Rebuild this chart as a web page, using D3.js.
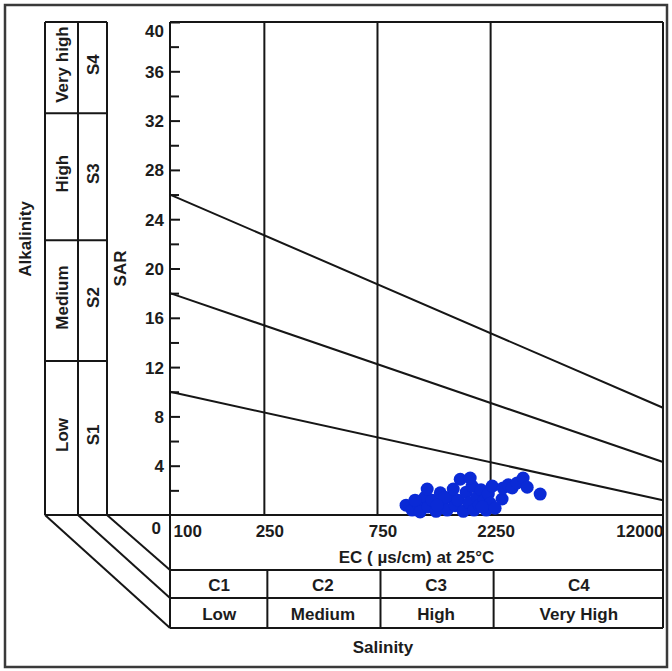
<!DOCTYPE html>
<html>
<head>
<meta charset="utf-8">
<script src="https://cdn.jsdelivr.net/npm/d3@7/dist/d3.min.js"></script>
<style>
  body { margin: 0; background: #fff; }
  text { font-family: "Liberation Sans", Arial, sans-serif; font-weight: bold; fill: #1c1c1c; font-size: 17px; }
  .frame { stroke: #161616; stroke-width: 2; fill: none; }
</style>
</head>
<body>
<div id="chart"></div>
<script>
// EC class breaks (log axis) and their labels
var ecBreaks = [100, 250, 750, 2250, 12000];
var ecLabels = ["100", "250", "750", "2250", "12000"];

// SAR ticks
var sarMajor = [4, 8, 12, 16, 20, 24, 28, 32, 36, 40];
var sarMinor = [2, 6, 10, 14, 18, 22, 26, 30, 34, 38];

// salinity classes (bottom table)
var salinityClasses = ["C1", "C2", "C3", "C4"];
var salinityNames = ["Low", "Medium", "High", "Very High"];

// sodium classes (left boxes), drawn bottom to top
var sodiumClasses = ["S1", "S2", "S3", "S4"];
var sodiumNames = ["Low", "Medium", "High", "Very high"];
var sodiumBounds = [0, 12.5, 22.3, 32.6, 40];

// hazard lines: SAR at EC = 100 and SAR at EC = 12000
var hazardStart = [10, 18, 26];
var hazardEnd = [1.2, 4.3, 8.7];

// water samples
var sampleEC = [990, 1050, 1110, 1135, 1190, 1225, 1275, 1325, 1380, 1405,
  1475, 1520, 1595, 1640, 1675, 1725, 1775, 1825, 1880, 1915,
  1975, 2015, 2050, 2115, 2155, 2200, 2240, 2285, 2350, 2515,
  2540, 2670, 2775, 2910, 3085, 3210, 3640, 1080, 1215, 1445,
  1565, 1845, 2075, 1340];
var sampleSAR = [0.8, 0.4, 0.9, 0.25, 1.45, 0.65, 1.2, 0.3, 1.8, 0.9,
  0.4, 1.4, 0.75, 1.2, 2.9, 0.3, 1.85, 1.0, 2.35, 0.4,
  1.45, 0.8, 2.05, 1.2, 0.4, 1.7, 0.95, 2.35, 0.55, 1.3,
  2.2, 2.45, 2.2, 2.6, 3.0, 2.25, 1.7, 1.2, 2.1, 1.45,
  2.1, 3.0, 0.65, 0.8];

// SVG area
var svgWidth = 672;
var svgHeight = 671;

var chartMargin = { top: 22, right: 9, bottom: 156, left: 170 };
var chartWidth = svgWidth - chartMargin.left - chartMargin.right;
var chartHeight = svgHeight - chartMargin.top - chartMargin.bottom;

var svg = d3.select("#chart")
  .append("svg")
  .attr("width", svgWidth)
  .attr("height", svgHeight);

// outer frame
svg.append("rect")
  .attr("x", 5).attr("y", 5)
  .attr("width", 662).attr("height", 662)
  .attr("fill", "none")
  .attr("stroke", "#3a3a3a")
  .attr("stroke-width", 2.5);

var chartGroup = svg.append("g")
  .attr("transform", `translate(${chartMargin.left}, ${chartMargin.top})`);

var xLogScale = d3.scaleLog()
  .domain([100, 12000])
  .range([0, chartWidth]);

var yLinearScale = d3.scaleLinear()
  .domain([0, 40])
  .range([chartHeight, 0]);

var rowC = chartHeight + 55;   // top of C1..C4 row
var rowN = chartHeight + 83;   // top of Low..Very High row
var rowEnd = chartHeight + 113;

// left boxes columns (relative to the axis)
var colA = -125, colB = -92, colC = -63;

function hline(x1, x2, y) {
  chartGroup.append("line").attr("class", "frame")
    .attr("x1", x1).attr("x2", x2).attr("y1", y).attr("y2", y);
}
function vline(x, y1, y2) {
  chartGroup.append("line").attr("class", "frame")
    .attr("x1", x).attr("x2", x).attr("y1", y1).attr("y2", y2);
}

// plot frame
hline(0, chartWidth, 0);
hline(colA, chartWidth, chartHeight);
vline(0, 0, rowEnd);
vline(chartWidth, 0, rowEnd);

// class break lines inside the plot
ecBreaks.slice(1, -1).forEach(function(v) {
  vline(xLogScale(v), 0, chartHeight);
  vline(xLogScale(v) + 3, rowC, rowEnd);
});

// bottom table
hline(0, chartWidth, rowC);
hline(0, chartWidth, rowN);
hline(0, chartWidth, rowEnd);

salinityClasses.forEach(function(c, i) {
  var cx = (xLogScale(ecBreaks[i]) + xLogScale(ecBreaks[i + 1])) / 2 + 2;
  chartGroup.append("text")
    .attr("x", cx).attr("y", rowC + 15)
    .attr("text-anchor", "middle")
    .attr("dominant-baseline", "central")
    .text(c);
  chartGroup.append("text")
    .attr("x", cx).attr("y", rowN + 16)
    .attr("text-anchor", "middle")
    .attr("dominant-baseline", "central")
    .text(salinityNames[i]);
});

// left side boxes
hline(colA, colC, 0);
vline(colA, 0, chartHeight);
vline(colB, 0, chartHeight);
vline(colC, 0, chartHeight);
sodiumBounds.slice(1, -1).forEach(function(v) {
  hline(colA, colC, yLinearScale(v));
});

sodiumClasses.forEach(function(s, i) {
  var cy = (yLinearScale(sodiumBounds[i]) + yLinearScale(sodiumBounds[i + 1])) / 2 - 3;
  chartGroup.append("text")
    .attr("transform", `translate(${(colA + colB) / 2 + 1}, ${cy}) rotate(-90)`)
    .attr("text-anchor", "middle")
    .attr("dominant-baseline", "central")
    .text(sodiumNames[i]);
  chartGroup.append("text")
    .attr("transform", `translate(${(colB + colC) / 2 + 1}, ${cy}) rotate(-90)`)
    .attr("text-anchor", "middle")
    .attr("dominant-baseline", "central")
    .text(s);
});

// perspective lines to the bottom table
[[colA, rowEnd], [colB, rowN], [colC, rowC]].forEach(function(p) {
  chartGroup.append("line").attr("class", "frame")
    .attr("x1", p[0]).attr("y1", chartHeight)
    .attr("x2", 0).attr("y2", p[1]);
});

// y axis (ticks pointing into the plot)
var leftAxis = d3.axisLeft(yLinearScale)
  .tickValues(sarMajor)
  .tickSize(-10)
  .tickPadding(6);
var minorAxis = d3.axisLeft(yLinearScale)
  .tickValues(sarMinor)
  .tickSize(-9)
  .tickFormat("");

var yAxisG = chartGroup.append("g").call(leftAxis);
chartGroup.append("g").call(minorAxis);
chartGroup.selectAll(".domain").remove();
chartGroup.selectAll(".tick line").attr("stroke", "#161616").attr("stroke-width", 2);
yAxisG.selectAll("text")
  .style("font-size", "17px")
  .attr("dy", d => d == 40 ? "0.85em" : "0.35em");

chartGroup.append("text")
  .attr("x", -9).attr("y", yLinearScale(0) + 13)
  .attr("text-anchor", "end")
  .attr("dominant-baseline", "central")
  .text("0");

// x axis labels
var bottomAxis = d3.axisBottom(xLogScale)
  .tickValues(ecBreaks)
  .tickFormat((d, i) => ecLabels[i])
  .tickSize(0)
  .tickPadding(10);
var xAxisG = chartGroup.append("g")
  .attr("transform", `translate(0, ${chartHeight})`)
  .call(bottomAxis);
xAxisG.select(".domain").remove();
xAxisG.selectAll("text")
  .style("font-size", "17px")
  .attr("text-anchor", (d, i) => i == 0 ? "start" : (i == ecBreaks.length - 1 ? "end" : "middle"))
  .attr("dx", (d, i) => i == 0 ? 3 : (i == ecBreaks.length - 1 ? 0 : 5));

// hazard lines
var hazardLine = d3.line()
  .x(d => xLogScale(d[0]))
  .y(d => yLinearScale(d[1]));

hazardStart.forEach(function(s, i) {
  chartGroup.append("path")
    .datum([[100, s], [12000, hazardEnd[i]]])
    .attr("d", hazardLine)
    .attr("fill", "none")
    .attr("stroke", "#161616")
    .attr("stroke-width", 2);
});

// samples
chartGroup.selectAll(".sample")
  .data(sampleEC)
  .enter()
  .append("circle")
  .attr("class", "sample")
  .attr("cx", d => xLogScale(d))
  .attr("cy", (d, i) => yLinearScale(sampleSAR[i]))
  .attr("r", 6.5)
  .attr("fill", "#0a2ad6");

// axis titles
chartGroup.append("text")
  .attr("x", chartWidth / 2).attr("y", chartHeight + 42)
  .attr("text-anchor", "middle")
  .attr("dominant-baseline", "central")
  .text("EC ( µs/cm) at 25°C");

chartGroup.append("text")
  .attr("x", 213).attr("y", chartHeight + 132)
  .attr("text-anchor", "middle")
  .attr("dominant-baseline", "central")
  .text("Salinity");

chartGroup.append("text")
  .attr("transform", `translate(-145, ${yLinearScale(22.4)}) rotate(-90)`)
  .attr("text-anchor", "middle")
  .attr("dominant-baseline", "central")
  .text("Alkalinity");

chartGroup.append("text")
  .attr("transform", `translate(-50, ${yLinearScale(20)}) rotate(-90)`)
  .attr("text-anchor", "middle")
  .attr("dominant-baseline", "central")
  .text("SAR");
</script>
</body>
</html>
